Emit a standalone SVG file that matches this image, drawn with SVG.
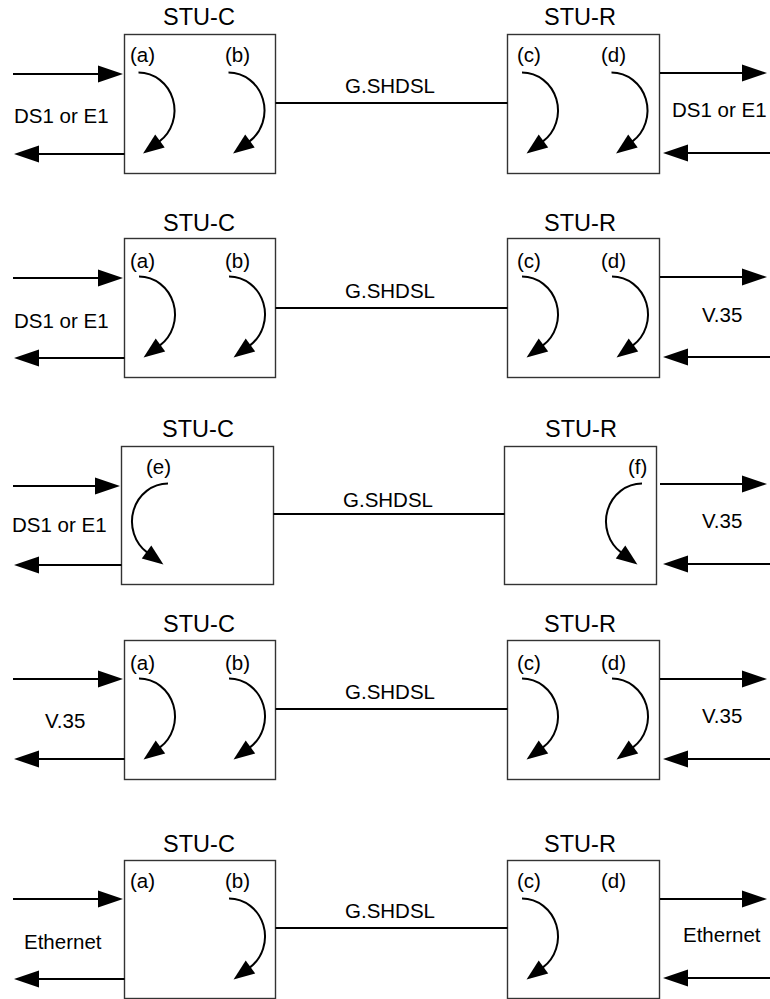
<svg xmlns="http://www.w3.org/2000/svg" width="770" height="999" viewBox="0 0 770 999">
<defs>
<style>
.box{fill:#fff;stroke:#333;stroke-width:1.4}
.hd{font-family:"Liberation Sans",Arial,sans-serif;font-size:23.5px;text-anchor:middle;fill:#000}
.lb{font-family:"Liberation Sans",Arial,sans-serif;font-size:20.5px;fill:#000}
.mid{text-anchor:middle}
.ln{stroke:#000;stroke-width:2;fill:none}
.ar{stroke:#000;stroke-width:2;fill:none;marker-end:url(#big)}
.cv{stroke:#000;stroke-width:2;fill:none;marker-end:url(#small)}
</style>
<marker id="big" markerUnits="userSpaceOnUse" markerWidth="25" markerHeight="17" refX="1" refY="8.5" orient="auto" overflow="visible">
<path d="M0,0 L25,8.5 L0,17 z" fill="#000"/>
</marker>
<marker id="small" markerUnits="userSpaceOnUse" markerWidth="21" markerHeight="16" refX="1" refY="8" orient="auto" overflow="visible">
<path d="M0,0 L21,8 L0,16 z" fill="#000"/>
</marker>
</defs>

<!-- Panel 1 -->
<g id="p1-stuc">
<rect class="box" x="124.5" y="34.5" width="151" height="139"/>
<text class="hd" x="199" y="25">STU-C</text>
<text class="lb" x="130" y="62">(a)</text>
<text class="lb" x="225" y="62">(b)</text>
</g>
<g id="p1-stur">
<rect class="box" x="507.5" y="34.5" width="152" height="139"/>
<text class="hd" x="580" y="25">STU-R</text>
<text class="lb" x="517" y="62">(c)</text>
<text class="lb" x="601" y="62">(d)</text>
</g>

<!-- Panel 2 -->
<g id="p2-stuc">
<rect class="box" x="124.5" y="238.5" width="151" height="139"/>
<text class="hd" x="199" y="231">STU-C</text>
<text class="lb" x="130" y="268">(a)</text>
<text class="lb" x="225" y="268">(b)</text>
</g>
<g id="p2-stur">
<rect class="box" x="507.5" y="238.5" width="152" height="139"/>
<text class="hd" x="580" y="231">STU-R</text>
<text class="lb" x="517" y="268">(c)</text>
<text class="lb" x="601" y="268">(d)</text>
</g>

<!-- Panel 3 -->
<g id="p3-stuc">
<rect class="box" x="121.5" y="446.5" width="152" height="138"/>
<text class="hd" x="198" y="437">STU-C</text>
<text class="lb" x="146" y="474">(e)</text>
</g>
<g id="p3-stur">
<rect class="box" x="504.5" y="446.5" width="152" height="138"/>
<text class="hd" x="581" y="437">STU-R</text>
<text class="lb" x="628" y="474">(f)</text>
</g>

<!-- Panel 4 -->
<g id="p4-stuc">
<rect class="box" x="124.5" y="640.5" width="151" height="139"/>
<text class="hd" x="199" y="632">STU-C</text>
<text class="lb" x="130" y="670">(a)</text>
<text class="lb" x="225" y="670">(b)</text>
</g>
<g id="p4-stur">
<rect class="box" x="507.5" y="640.5" width="152" height="139"/>
<text class="hd" x="580" y="632">STU-R</text>
<text class="lb" x="517" y="670">(c)</text>
<text class="lb" x="601" y="670">(d)</text>
</g>

<!-- Panel 5 -->
<g id="p5-stuc">
<rect class="box" x="124.5" y="860.5" width="151" height="138"/>
<text class="hd" x="199" y="852">STU-C</text>
<text class="lb" x="130" y="888">(a)</text>
<text class="lb" x="225" y="888">(b)</text>
</g>
<g id="p5-stur">
<rect class="box" x="507.5" y="860.5" width="152" height="138"/>
<text class="hd" x="580" y="852">STU-R</text>
<text class="lb" x="517" y="888">(c)</text>
<text class="lb" x="601" y="888">(d)</text>
</g>

<g id="connectors">
<!-- Panel 1 -->
<line class="ar" x1="13" y1="74" x2="99" y2="74"/>
<line class="ar" x1="124.5" y1="154" x2="38" y2="154"/>
<line class="ar" x1="660" y1="73" x2="743" y2="73"/>
<line class="ar" x1="770" y1="153" x2="687" y2="153"/>
<line class="ln" x1="275.5" y1="103" x2="507.5" y2="103"/>
<path class="cv" d="M138.5 72.5 A36 38 0 0 1 159.15 141.63"/>
<path class="cv" d="M228.5 72.5 A36 38 0 0 1 249.15 141.63"/>
<path class="cv" d="M522 72.5 A36 38 0 0 1 542.65 141.63"/>
<path class="cv" d="M611.5 72.5 A36 38 0 0 1 632.15 141.63"/>
<!-- Panel 2 -->
<line class="ar" x1="13" y1="278" x2="99" y2="278"/>
<line class="ar" x1="124.5" y1="358" x2="38" y2="358"/>
<line class="ar" x1="660" y1="277" x2="743" y2="277"/>
<line class="ar" x1="770" y1="357" x2="687" y2="357"/>
<line class="ln" x1="275.5" y1="308" x2="507.5" y2="308"/>
<path class="cv" d="M139 276.5 A36 38 0 0 1 159.65 345.63"/>
<path class="cv" d="M229 276.5 A36 38 0 0 1 249.65 345.63"/>
<path class="cv" d="M522 276.5 A36 38 0 0 1 542.65 345.63"/>
<path class="cv" d="M612 276.5 A36 38 0 0 1 632.65 345.63"/>
<!-- Panel 3 -->
<line class="ar" x1="13" y1="486" x2="96" y2="486"/>
<line class="ar" x1="121.5" y1="565" x2="38" y2="565"/>
<line class="ar" x1="660" y1="484" x2="743" y2="484"/>
<line class="ar" x1="770" y1="564" x2="687" y2="564"/>
<line class="ln" x1="273.5" y1="514" x2="504.5" y2="514"/>
<path class="cv" d="M168 483.5 A36 38 0 0 0 147.35 552.63"/>
<path class="cv" d="M642 483.5 A36 38 0 0 0 621.35 552.63"/>
<!-- Panel 4 -->
<line class="ar" x1="13" y1="679" x2="99" y2="679"/>
<line class="ar" x1="124.5" y1="759" x2="38" y2="759"/>
<line class="ar" x1="660" y1="679" x2="743" y2="679"/>
<line class="ar" x1="770" y1="759" x2="687" y2="759"/>
<line class="ln" x1="275.5" y1="709" x2="507.5" y2="709"/>
<path class="cv" d="M139 678.5 A36 38 0 0 1 159.65 747.63"/>
<path class="cv" d="M229 678.5 A36 38 0 0 1 249.65 747.63"/>
<path class="cv" d="M522 678.5 A36 38 0 0 1 542.65 747.63"/>
<path class="cv" d="M612 678.5 A36 38 0 0 1 632.65 747.63"/>
<!-- Panel 5 -->
<line class="ar" x1="13" y1="899" x2="99" y2="899"/>
<line class="ar" x1="124.5" y1="979" x2="38" y2="979"/>
<line class="ar" x1="660" y1="899" x2="743" y2="899"/>
<line class="ar" x1="770" y1="978" x2="687" y2="978"/>
<line class="ln" x1="275.5" y1="928" x2="507.5" y2="928"/>
<path class="cv" d="M229 898.5 A36 38 0 0 1 249.65 967.63"/>
<path class="cv" d="M522 898.5 A36 38 0 0 1 542.65 967.63"/>
</g>

<g id="labels">
<text class="lb mid" x="390" y="93">G.SHDSL</text>
<text class="lb" x="14" y="123">DS1 or E1</text>
<text class="lb" x="672" y="117">DS1 or E1</text>
<text class="lb mid" x="390" y="298">G.SHDSL</text>
<text class="lb" x="14" y="328">DS1 or E1</text>
<text class="lb" x="702" y="322">V.35</text>
<text class="lb mid" x="388" y="507">G.SHDSL</text>
<text class="lb" x="12" y="532">DS1 or E1</text>
<text class="lb" x="702" y="528">V.35</text>
<text class="lb mid" x="390" y="699">G.SHDSL</text>
<text class="lb" x="45" y="728">V.35</text>
<text class="lb" x="702" y="723">V.35</text>
<text class="lb mid" x="390" y="918">G.SHDSL</text>
<text class="lb" x="24" y="949">Ethernet</text>
<text class="lb" x="683" y="942">Ethernet</text>
</g>
</svg>
